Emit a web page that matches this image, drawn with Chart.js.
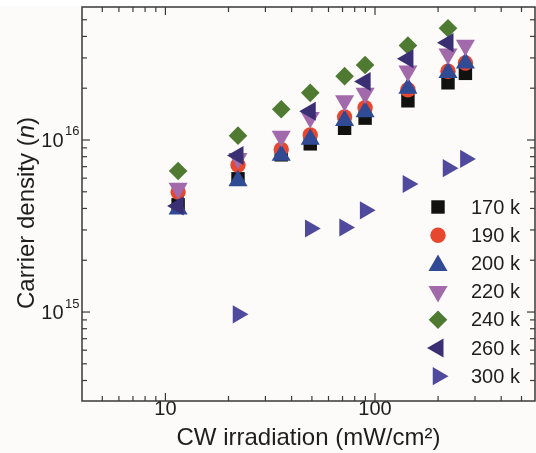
<!DOCTYPE html>
<html><head><meta charset="utf-8">
<script src="https://cdn.jsdelivr.net/npm/chart.js@4.4.0/dist/chart.umd.min.js"></script>
<style>html,body{margin:0;padding:0;background:#fcfbf9;}</style>
</head><body>
<canvas id="c" width="536" height="453" style="width:536px;height:453px;display:block"></canvas>
<script>
// ---- data ----
const irradiation = [11.5, 22.2, 35.7, 49.1, 71.6, 89.7, 143.6, 223, 270];
const n170 = [4.2e15, 5.95e15, 8.2e15, 9.5e15, 1.17e16, 1.34e16, 1.69e16, 2.15e16, 2.44e16];
const n190 = [4.98e15, 7.15e15, 8.82e15, 1.07e16, 1.36e16, 1.54e16, 1.96e16, 2.51e16, 2.80e16];
const n200 = [3.97e15, 5.8e15, 8.15e15, 1.01e16, 1.30e16, 1.46e16, 2.0e16, 2.47e16, 2.80e16];
const n220 = [5.25e15, 7.8e15, 1.05e16, 1.35e16, 1.69e16, 1.87e16, 2.52e16, 3.16e16, 3.55e16];
const n240 = [6.6e15, 1.06e16, 1.51e16, 1.88e16, 2.35e16, 2.73e16, 3.54e16, 4.46e16, null];
const n260 = [4.14e15, 8.12e15, null, 1.47e16, null, 2.19e16, 2.97e16, 3.68e16, null];
const n300 = [null, 9.7e14, null, 3.06e15, 3.1e15, 3.9e15, 5.55e15, 6.86e15, 7.76e15];
const seriesLabels = ['170 k', '190 k', '200 k', '220 k', '240 k', '260 k', '300 k'];
const xTickValues = [4,5,6,7,8,9,10,20,30,40,50,60,70,80,90,100,200,300,400,500];
const xLabelValues = [10, 100];
const xLabelTexts = ['10', '100'];
const yTickValues = [3e14,4e14,5e14,6e14,7e14,8e14,9e14,1e15,2e15,3e15,4e15,5e15,6e15,7e15,8e15,9e15,1e16,2e16,3e16,4e16,5e16];
const yLabelValues = [1e15, 1e16];
const yLabelBase = '10';
const yLabelExps = ['15', '16'];
const xTitle = 'CW irradiation (mW/cm\u00B2)';
const yTitleParts = ['Carrier density (', 'n', ')'];

// ---- styles ----
const series = [n170, n190, n200, n220, n240, n260, n300];
const markStyles = [
  {pointStyle:'rect', radius:9.5, rotation:0, color:'#111210'},
  {pointStyle:'circle', radius:7.7, rotation:0, color:'#e8472f'},
  {pointStyle:'triangle', radius:11, rotation:0, color:'#304a94'},
  {pointStyle:'triangle', radius:11, rotation:180, color:'#a26aab'},
  {pointStyle:'rectRot', radius:9.3, rotation:0, color:'#4e7a32'},
  {pointStyle:'triangle', radius:11, rotation:270, color:'#3b2f74'},
  {pointStyle:'triangle', radius:10.5, rotation:90, color:'#4f4a9e'}
];
const FONT = '"Liberation Sans", Arial, Helvetica, sans-serif';
const TEXT = '#1e1e1e';
const AXIS = '#3a3a3a';

const datasets = series.map((vals, i) => ({
  label: seriesLabels[i],
  data: irradiation.map((x, j) => ({x: x, y: vals[j]})).filter(p => p.y !== null),
  showLine: false,
  pointStyle: markStyles[i].pointStyle,
  pointRadius: markStyles[i].radius,
  pointRotation: markStyles[i].rotation,
  pointBackgroundColor: markStyles[i].color,
  pointBorderColor: markStyles[i].color,
  pointBorderWidth: 0,
  order: series.length - i
}));

function drawMark(ctx, st, x, y) {
  ctx.fillStyle = st.color;
  ctx.strokeStyle = st.color;
  Chart.helpers.drawPoint(ctx, {pointStyle: st.pointStyle, rotation: st.rotation, radius: st.radius, borderWidth: 0}, x, y);
}

const bgPlugin = {
  id: 'bg',
  beforeDraw(chart) {
    const ctx = chart.ctx;
    ctx.save();
    ctx.fillStyle = '#fcfbf9';
    ctx.fillRect(0, 0, chart.width, chart.height);
    ctx.fillStyle = '#ffffff';
    ctx.fillRect(0, 0, chart.width, chart.chartArea.top - 1);
    ctx.restore();
  }
};

const framePlugin = {
  id: 'frame',
  afterDraw(chart) {
    const ctx = chart.ctx, a = chart.chartArea, xs = chart.scales.x, ys = chart.scales.y;
    ctx.save();
    ctx.strokeStyle = AXIS;
    ctx.lineWidth = 1.5;
    ctx.strokeRect(a.left, a.top, a.right - a.left, a.bottom - a.top);
    ctx.lineWidth = 1.2;
    const seg = (x1, y1, x2, y2) => { ctx.beginPath(); ctx.moveTo(x1, y1); ctx.lineTo(x2, y2); ctx.stroke(); };
    xTickValues.forEach(v => {
      const px = xs.getPixelForValue(v);
      if (px < a.left + 1 || px > a.right - 1) return;
      const L = xLabelValues.includes(v) ? 8 : 5;
      seg(px, a.bottom, px, a.bottom - L);
      seg(px, a.top, px, a.top + L);
    });
    yTickValues.forEach(v => {
      const py = ys.getPixelForValue(v);
      if (py < a.top + 1 || py > a.bottom - 1) return;
      const L = yLabelValues.includes(v) ? 8 : 5;
      seg(a.left, py, a.left + L, py);
      seg(a.right, py, a.right - L, py);
    });
    // y tick labels with superscript
    ctx.fillStyle = TEXT;
    yLabelValues.forEach((v, i) => {
      const py = ys.getPixelForValue(v);
      ctx.font = '20px ' + FONT;
      ctx.textAlign = 'right';
      ctx.textBaseline = 'alphabetic';
      ctx.fillText(yLabelBase, a.left - 18.5, py + 7);
      ctx.font = '13px ' + FONT;
      ctx.textAlign = 'left';
      ctx.fillText(yLabelExps[i], a.left - 17, py - 4.5);
    });
    // y title, rotated, with italic n
    ctx.save();
    ctx.translate(34, (a.top + a.bottom) / 2 + 9);
    ctx.rotate(-Math.PI / 2);
    ctx.textBaseline = 'alphabetic';
    ctx.textAlign = 'left';
    const fonts = ['24px ' + FONT, 'italic 24px ' + FONT, '24px ' + FONT];
    let total = 0;
    const widths = yTitleParts.map((t, i) => { ctx.font = fonts[i]; const w = ctx.measureText(t).width; total += w; return w; });
    let cx = -total / 2;
    yTitleParts.forEach((t, i) => { ctx.font = fonts[i]; ctx.fillText(t, cx, 0); cx += widths[i]; });
    ctx.restore();
    // legend
    const lx = a.right - 97, tx = a.right - 64;
    ctx.font = '20px ' + FONT;
    ctx.textAlign = 'left';
    ctx.textBaseline = 'middle';
    seriesLabels.forEach((lab, i) => {
      const ly = 207 + i * 28.2;
      drawMark(ctx, markStyles[i], lx, ly + (markStyles[i].pointStyle === 'triangle' && markStyles[i].rotation === 0 ? 2 : 0));
      ctx.fillStyle = TEXT;
      ctx.fillText(lab, tx, ly + 1);
    });
    ctx.restore();
  }
};

new Chart(document.getElementById('c'), {
  type: 'scatter',
  data: { datasets: datasets },
  options: {
    responsive: false,
    animation: false,
    events: [],
    layout: { autoPadding: false, padding: { top: 7, right: 1, left: 0, bottom: 0 } },
    plugins: { legend: { display: false }, tooltip: { enabled: false } },
    scales: {
      x: {
        type: 'logarithmic', min: 4, max: 580,
        afterFit(s) { s.height = 52; s.paddingLeft = 0; s.paddingRight = 0; },
        afterBuildTicks(s) { s.ticks = xLabelValues.map(v => ({ value: v })); },
        ticks: {
          autoSkip: false, maxRotation: 0, padding: -4, color: TEXT,
          font: { family: FONT, size: 20 },
          callback(v) { const k = xLabelValues.indexOf(v); return k >= 0 ? xLabelTexts[k] : ''; }
        },
        grid: { display: false, drawTicks: false },
        border: { display: false },
        title: { display: true, text: xTitle, color: TEXT, font: { family: FONT, size: 24 }, padding: { top: 4, bottom: 0 } }
      },
      y: {
        type: 'logarithmic', min: 3.04e14, max: 5.93e16,
        afterFit(s) { s.width = 82; s.paddingTop = 0; s.paddingBottom = 0; },
        ticks: { display: false },
        grid: { display: false, drawTicks: false },
        border: { display: false }
      }
    }
  },
  plugins: [bgPlugin, framePlugin]
});
</script>
</body></html>
